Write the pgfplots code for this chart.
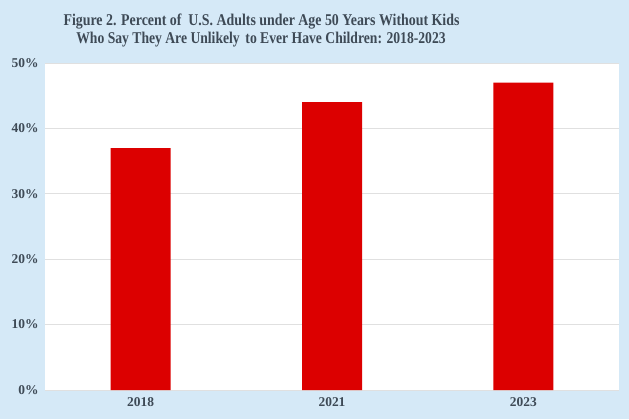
\documentclass[border=0pt]{standalone}
\usepackage{pgfplots}
\pgfplotsset{compat=1.18}
\usepackage{fontspec}
\setmainfont{Liberation Serif}
\definecolor{bgblue}{HTML}{D5E9F7}
\definecolor{barred}{HTML}{DC0000}
\definecolor{txt}{HTML}{3E4A56}
\definecolor{gridc}{HTML}{E0E0E0}
\begin{document}
\begin{tikzpicture}[x=1bp,y=1bp]
\fill[bgblue] (0,0) rectangle (629,419);
\node[anchor=base,text=txt,font=\bfseries\fontsize{16.5}{17.6}\selectfont] at (261.5,419-25.7) {\scalebox{0.845}[1]{Figure 2. Percent of\ \ U.S. Adults under Age 50 Years Without Kids}};
\node[anchor=base,text=txt,font=\bfseries\fontsize{16.5}{17.6}\selectfont] at (261,419-43.3) {\scalebox{0.83}[1]{Who Say They Are Unlikely\ \,to Ever Have Children: 2018-2023}};
\begin{axis}[
  at={(45bp,29bp)}, anchor=south west,
  scale only axis, width=574bp, height=327bp,
  xmin=-0.5, xmax=2.5, ymin=0, ymax=50,
  xtick={0,1,2}, xticklabels={2018,2021,2023},
  ytick={0,10,20,30,40,50},
  yticklabel={\pgfmathprintnumber{\tick}\%},
  /pgf/number format/assume math mode=true,
  tick label style={font=\bfseries\fontsize{13.5}{15}\selectfont, text=txt},
  yticklabel style={xshift=-3bp},
  xticklabel style={yshift=-4bp},
  major tick length=0pt,
  axis line style={draw=none},
  axis background/.style={fill=white},
  ymajorgrids, grid style={gridc, line width=0.8bp},
  ybar, bar width=60bp,
]
\addplot[fill=barred, draw=none] coordinates {(0,37) (1,44) (2,47)};
\end{axis}
\end{tikzpicture}
\end{document}
